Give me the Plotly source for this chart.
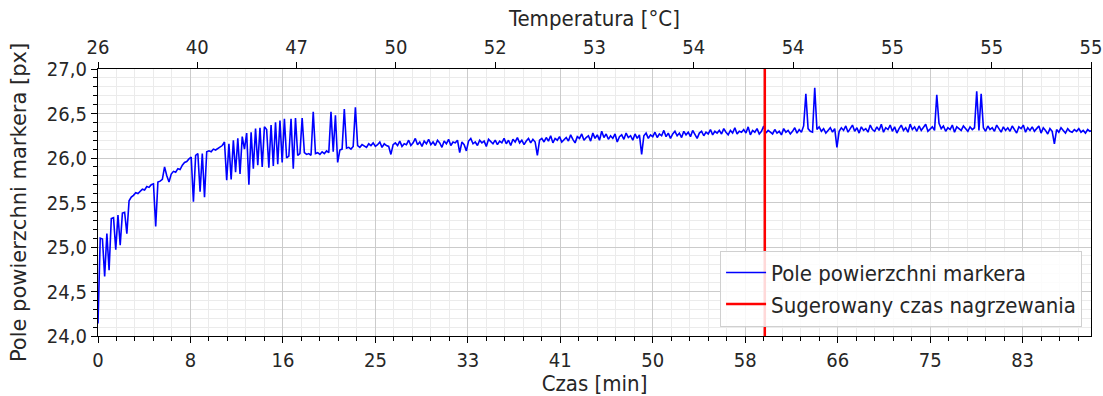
import plotly.graph_objects as go

# ---------------- data ----------------
SAMPLE_STEP_MIN = 0.2          # one sample every 0.2 min
X_MAX = 89.5                   # end of the recording [min]
SUGGESTED_HEATING_TIME = 60.1  # [min]

# marker area [px], t = 0.0 ... 24.0 min
area_warmup = [
    24.14, 25.10, 25.09, 24.67, 25.15, 24.74, 25.32, 25.33, 24.97, 25.36,
    25.02, 25.38, 25.39, 25.15, 25.52, 25.56, 25.58, 25.61, 25.60, 25.63,
    25.65, 25.64, 25.68, 25.67, 25.70, 25.71, 25.23, 25.73, 25.74, 25.76,
    25.90, 25.80, 25.73, 25.82, 25.85, 25.84, 25.88, 25.87, 25.92, 25.95,
    25.96, 25.99, 26.01, 25.51, 26.03, 26.05, 25.62, 26.05, 25.56, 26.07,
    26.08, 26.07, 26.10, 26.09, 26.11, 26.12, 26.14, 26.18, 25.75, 26.16,
    25.76, 26.20, 25.84, 26.22, 25.82, 26.24, 26.10, 26.28, 25.70, 26.29,
    25.88, 26.33, 25.92, 26.34, 25.90, 26.35, 26.32, 25.89, 26.37, 25.91,
    26.40, 25.93, 26.42, 25.95, 26.44, 26.00, 26.02, 26.44, 25.88, 26.45,
    26.03, 26.05, 26.45, 26.06, 26.04, 26.05, 26.03, 26.52, 26.05, 26.06,
    26.04, 26.07, 26.05, 26.08, 26.06, 26.52, 26.07, 26.48, 25.95, 26.09,
    26.10, 26.55, 26.11, 26.12, 26.10, 26.13, 26.57, 26.14, 26.12, 26.15,
    26.13,
]

# t = 24.2 ... 60.0 min
area_stabilising = [
    26.12, 26.16, 26.14, 26.17, 26.13, 26.15, 26.18, 26.12, 26.16, 26.14,
    26.13, 26.04, 26.15, 26.17, 26.14, 26.19, 26.13, 26.16, 26.15, 26.20,
    26.14, 26.17, 26.22, 26.15, 26.18, 26.13, 26.19, 26.16, 26.21, 26.15,
    26.18, 26.14, 26.20, 26.17, 26.12, 26.19, 26.16, 26.21, 26.14, 26.18,
    26.17, 26.20, 26.06, 26.18, 26.15, 26.08, 26.19, 26.22, 26.16, 26.18,
    26.14, 26.20, 26.17, 26.19, 26.13, 26.21, 26.18, 26.16, 26.20, 26.15,
    26.19, 26.17, 26.22, 26.16, 26.20, 26.14, 26.21, 26.18, 26.23, 26.17,
    26.20, 26.15, 26.19, 26.22, 26.17, 26.21, 26.18, 26.03, 26.20, 26.22,
    26.18, 26.23, 26.19, 26.25, 26.17, 26.22, 26.20, 26.24, 26.18, 26.21,
    26.23, 26.19, 26.26, 26.21, 26.17, 26.24, 26.22, 26.27, 26.20, 26.23,
    26.25, 26.19, 26.28, 26.22, 26.26, 26.20, 26.30, 26.23, 26.27, 26.21,
    26.25, 26.22, 26.27, 26.18, 26.24, 26.26, 26.21, 26.28, 26.23, 26.25,
    26.20, 26.27, 26.22, 26.26, 26.04, 26.25, 26.28, 26.22, 26.26, 26.24,
    26.29, 26.23, 26.27, 26.25, 26.31, 26.24, 26.28, 26.22, 26.27, 26.30,
    26.25, 26.28, 26.23, 26.30, 26.26, 26.29, 26.24, 26.31, 26.27, 26.22,
    26.28, 26.30, 26.25, 26.29, 26.27, 26.32, 26.26, 26.30, 26.28, 26.31,
    26.27, 26.33, 26.29, 26.26, 26.31, 26.28, 26.34, 26.27, 26.30, 26.29,
    26.32, 26.28, 26.35, 26.26, 26.31, 26.29, 26.33, 26.27, 26.30, 26.36,
]

# t = 60.2 ... 89.6 min
area_stable = [
    26.28, 26.31, 26.29, 26.27, 26.32, 26.28, 26.30, 26.26, 26.33, 26.29,
    26.31, 26.27, 26.30, 26.34, 26.28, 26.32, 26.29, 26.36, 26.72, 26.33,
    26.30, 26.29, 26.79, 26.32, 26.35, 26.30, 26.33, 26.28, 26.31, 26.34,
    26.29, 26.33, 26.12, 26.30, 26.34, 26.31, 26.36, 26.29, 26.33, 26.37,
    26.30, 26.34, 26.28, 26.35, 26.31, 26.33, 26.29, 26.37, 26.32, 26.30,
    26.35, 26.31, 26.38, 26.29, 26.34, 26.32, 26.37, 26.30, 26.35, 26.28,
    26.33, 26.37, 26.31, 26.34, 26.29, 26.38, 26.32, 26.35, 26.30, 26.36,
    26.31, 26.34, 26.38, 26.30, 26.33, 26.35, 26.31, 26.71, 26.39, 26.33,
    26.36, 26.30, 26.34, 26.32, 26.37, 26.29, 26.35, 26.33, 26.31, 26.36,
    26.33, 26.30, 26.35, 26.32, 26.34, 26.75, 26.31, 26.72, 26.34, 26.30,
    26.36, 26.32, 26.34, 26.30, 26.37, 26.33, 26.29, 26.35, 26.31, 26.34,
    26.30, 26.36, 26.32, 26.28, 26.35, 26.33, 26.37, 26.29, 26.34, 26.31,
    26.35, 26.30, 26.33, 26.36, 26.28, 26.34, 26.31, 26.27, 26.33, 26.30,
    26.16, 26.32, 26.29, 26.34, 26.31, 26.28, 26.33, 26.30, 26.29, 26.32,
    26.30, 26.33, 26.29, 26.31, 26.28, 26.32, 26.30, 26.31,
]

area = area_warmup + area_stabilising + area_stable
time_min = [round(i * SAMPLE_STEP_MIN, 2) for i in range(len(area))]

# bottom axis: a tick every 500 s, labels truncated to whole minutes
bottom_tick_labels = ["0", "8", "16", "25", "33", "41", "50", "58", "66", "75", "83"]
BOTTOM_TICK_STEP = 500 / 60
BOTTOM_MINOR_STEP = 100 / 60

# top axis: 11 evenly spaced ticks labelled with temperature
top_tick_labels = ["26", "40", "47", "50", "52", "53", "54", "54", "55", "55", "55"]

Y_MIN, Y_MAX = 24.0, 27.0

# ---------------- figure ----------------
FONT_H = "DejaVu Sans Condensed"   # horizontal text
FONT_V = "DejaVu Sans"             # rotated y title
TXT = "#262626"
BLACK = "#000000"
GRID = "#cbcbcb"
MINOR_GRID = "#ebebeb"

bottom_tickvals = [i * BOTTOM_TICK_STEP for i in range(len(bottom_tick_labels))]
n_top = len(top_tick_labels)
top_tickvals = [X_MAX * i / (n_top - 1) for i in range(n_top)]

fig = go.Figure()
fig.add_trace(go.Scatter(
    x=time_min, y=area, mode="lines",
    line=dict(color="#0000ff", width=1.6),
    name="Pole powierzchni markera", legendgroup="a",
))
fig.add_trace(go.Scatter(
    x=[SUGGESTED_HEATING_TIME, SUGGESTED_HEATING_TIME], y=[Y_MIN, Y_MAX],
    mode="lines", line=dict(color="#ff0000", width=2.5),
    name="Sugerowany czas nagrzewania", legendgroup="b",
))
# invisible trace that carries the top (temperature) axis
fig.add_trace(go.Scatter(
    x=[0, X_MAX], y=[Y_MIN, Y_MIN], xaxis="x2", mode="markers",
    marker=dict(opacity=0), showlegend=False, hoverinfo="skip",
))

tick_font = dict(family=FONT_H, size=20, color=TXT)
title_font = dict(family=FONT_H, size=22, color=TXT)

fig.update_layout(
    width=1103, height=396,
    margin=dict(l=98, r=12, t=69, b=60, autoexpand=False),
    paper_bgcolor="white", plot_bgcolor="white",
    font=dict(family=FONT_H, size=18, color=TXT),
    separators=", ",
    showlegend=True,
    legend=dict(
        x=0.991, y=0.035, xanchor="right", yanchor="bottom",
        bgcolor="rgba(255,255,255,0.85)", bordercolor="#d0d0d0", borderwidth=1,
        font=dict(family=FONT_H, size=22, color=TXT),
        itemwidth=40, tracegroupgap=0, traceorder="grouped",
    ),
    xaxis=dict(
        range=[0, X_MAX], tickmode="array", tickvals=bottom_tickvals,
        ticktext=bottom_tick_labels, automargin=False,
        ticks="outside", ticklen=6, tickwidth=1.2, tickcolor=BLACK,
        showline=True, linecolor=BLACK, linewidth=1.3,
        showgrid=True, gridcolor=GRID, gridwidth=1, zeroline=False,
        minor=dict(tickmode="linear", tick0=0, dtick=BOTTOM_MINOR_STEP,
                   ticks="outside", ticklen=3.5, tickcolor=BLACK, tickwidth=1,
                   showgrid=True, gridcolor=MINOR_GRID, gridwidth=1),
        title=dict(text="Czas [min]", standoff=8, font=title_font),
        tickfont=tick_font,
    ),
    xaxis2=dict(
        overlaying="x", side="top", anchor="y",
        range=[0, X_MAX], tickmode="array", tickvals=top_tickvals,
        ticktext=top_tick_labels, automargin=False,
        ticks="outside", ticklen=6, tickwidth=1.2, tickcolor=BLACK,
        showline=True, linecolor=BLACK, linewidth=1.3,
        showgrid=False, zeroline=False,
        title=dict(text="Temperatura [°C]", standoff=2, font=title_font),
        tickfont=tick_font,
    ),
    yaxis=dict(
        range=[Y_MIN, Y_MAX], tickmode="linear", tick0=Y_MIN, dtick=0.5,
        tickformat=".1f", automargin=False,
        ticks="outside", ticklen=6, tickwidth=1.2, tickcolor=BLACK,
        showline=True, linecolor=BLACK, linewidth=1.3, mirror=True,
        showgrid=True, gridcolor=GRID, gridwidth=1, zeroline=False,
        minor=dict(tickmode="linear", tick0=Y_MIN, dtick=0.1,
                   ticks="outside", ticklen=3.5, tickcolor=BLACK, tickwidth=1,
                   showgrid=True, gridcolor=MINOR_GRID, gridwidth=1),
        title=dict(text="Pole powierzchni markera [px]", standoff=14,
                   font=dict(family=FONT_V, size=21, color=TXT)),
        tickfont=tick_font,
    ),
)

fig.write_html("out.html")
